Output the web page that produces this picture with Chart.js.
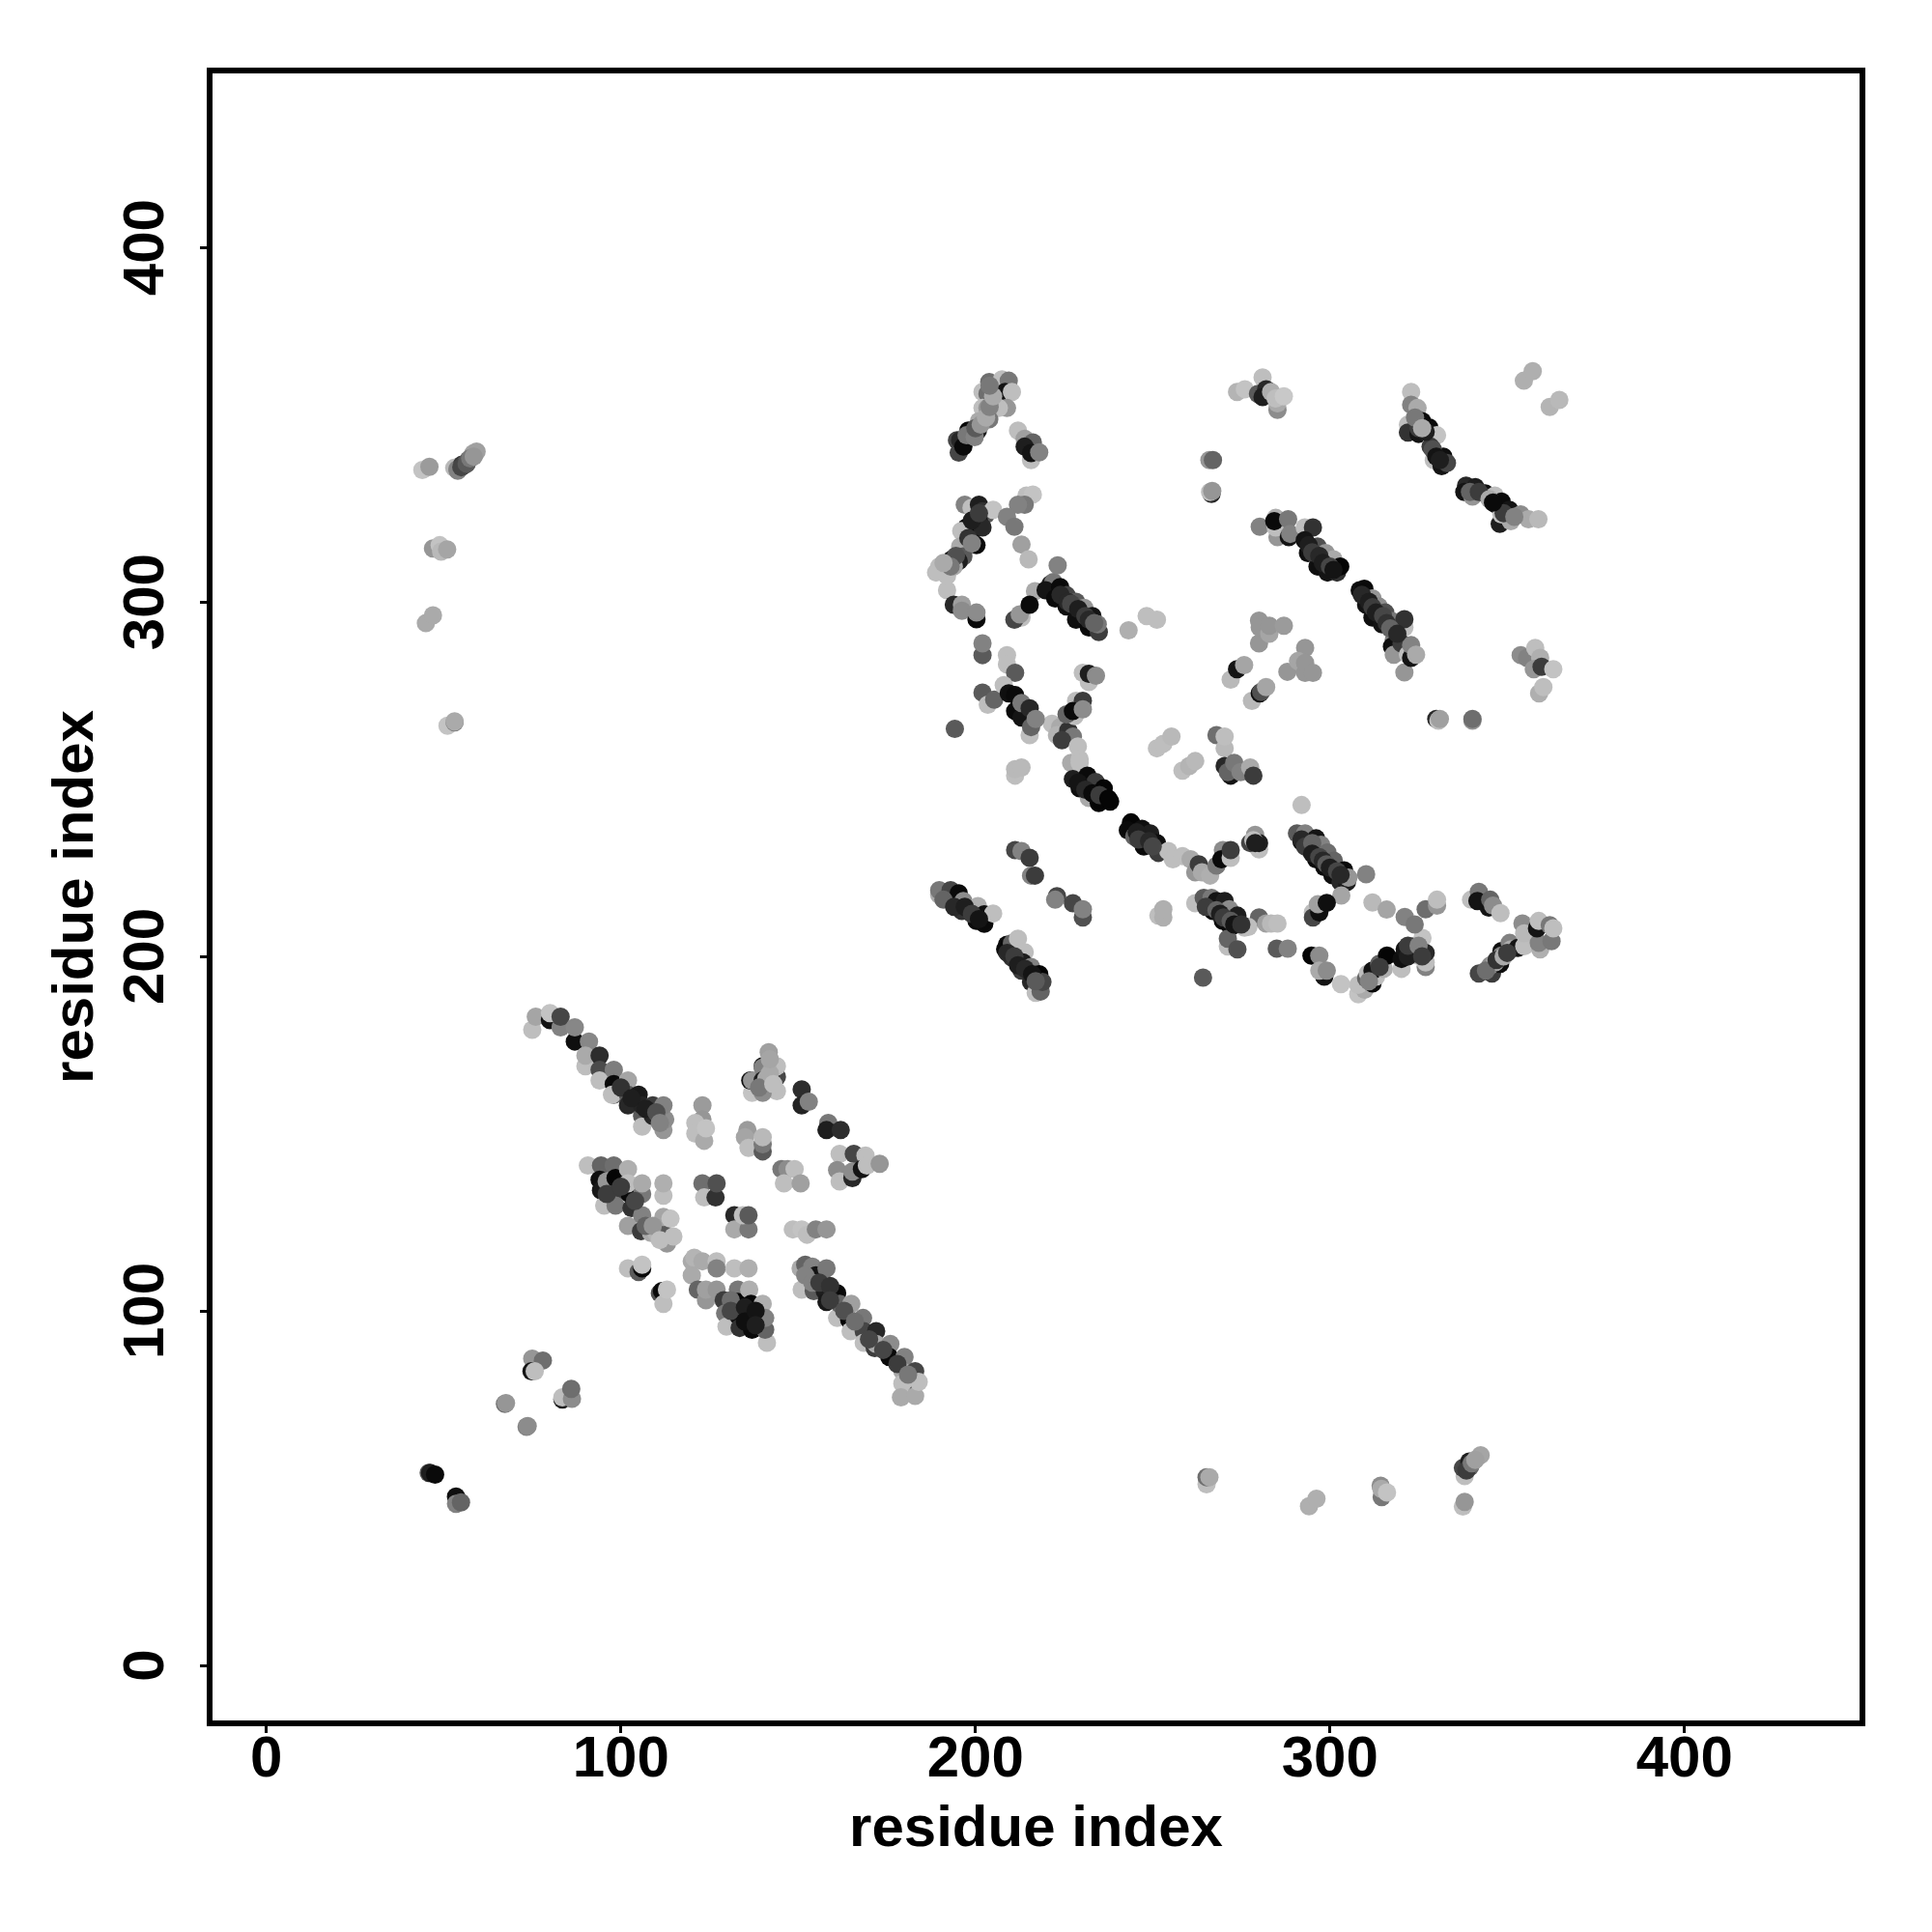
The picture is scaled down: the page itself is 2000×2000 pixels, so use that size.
<!DOCTYPE html>
<html><head><meta charset="utf-8">
<style>html,body{margin:0;padding:0;background:#fff}canvas{display:block}</style>
<script src="https://cdn.jsdelivr.net/npm/chart.js@4/dist/chart.umd.min.js"></script>
</head><body><canvas id="c" width="2000" height="2000"></canvas>
<script>
// each contact: [residue i, residue j, grey level]
const xTicks=[0,100,200,300,400];
const yTicks=[0,100,200,300,400];
const axisTitle="residue index";
const bandUnderlay=[[54,337,130],[55,338,70],[56.5,339,90],[57.5,340.5,120],[58.5,341,150],[338.5,55,60],[340,57,120],[341,58,160],[200,349,90],[201.5,350,150],[203,352,170],[204,355,130],[205,358,170],[204,361,120],[224,302,40],[226,300,40],[227,299.5,70],[229,298,30],[231,296,60],[232,295,40],[233.5,294,100],[229,249,20],[231,247,40],[233,246,10],[235,245.5,60],[237.5,244.5,5],[245.5,235,30],[246,233,60],[249,232.5,40],[250,231,70],[294,316,30],[295,314,60],[297,313,40],[298,311,30],[300,310,70],[301,309,20],[309,302,40],[311,300,30],[312,298.5,60],[313,297,30],[315,296,70],[316,294,50],[317,292.5,100],[319,291,40],[292,233,40],[293,231,60],[295,232,100],[295,229,30],[297,228,70],[298,227,40],[299,226,90],[300,225,30],[302,224,70],[303,223,40],[339.5,331,100],[342,331,60],[345,329,170],[349,325,60],[352,324,130],[346,328,10],[325,349,60],[327,348,30],[329,343,80],[330,341,20],[331,340,30],[324,352,120],[326,349,170],[199,323,30],[201,325,60],[198,318,50],[199,316.5,130],[194.5,313,80],[193,310,120],[191,311,170],[191,216,100],[194,214,40],[197,214,30],[199,212,60],[201,210.5,20],[209,201,40],[211,200,60],[212,197.5,30],[214,196.5,40],[216,195,20],[217,193,90],[265,214,60],[268,213,100],[269,212,30],[270,211,60],[272,210,90],[273,209,20],[275,209,50],[311,193,130],[314,197,60],[322,200,30],[322,203,60],[325,203,130],[326,200,60],[344,196,110],[347,199,50],[349,200,170],[350,201,60],[100,163,50],[103,160,30],[107,157,30],[110,156,80],[111,153,130],[131,103,110],[131,100,70],[135,101,30],[135,97,15],[138,100,20],[138,96,30],[96,133,60],[100,135,60],[104,131,70],[107,124,100],[109,124,150],[111,120,190],[152,110,130],[154,108,130],[156,108,60],[159,107,50],[159,103,60],[163,100,80],[166,97,110],[170,92,70],[174,89,70],[178,85,60],[181,82,120],[139,163,120],[142,167,170],[142,171,165],[143,164,190]];
const diagUpper=[[75,179.3,190],[76,183,165],[80,182,20],[80,184,195],[83,180,130],[83,183,70],[87,176,15],[87,180,135],[91,173,100],[91,176,135],[90,169,190],[90,172,170],[94,172,45],[94,168,75],[94,165,190],[98,168,125],[98,164,10],[98,161,90],[97.5,161,190],[102,165,165],[102,161,90],[102,158,40],[105,161,25],[106,155,90],[106,152,190],[106,158,35],[109,158,60],[109,155,40],[112,151,150],[112.5,154,140],[112,158,130]];
const starTop=[[137,161.5,195],[136.5,165,20],[137,165,150],[141.7,173,160],[140,169,20],[140,168.6,130],[144,166,70],[144,169,190],[144,162,190],[140,161.5,140],[140,165,30],[141,165.5,170],[151,162.5,45],[151,158,35],[153,159,130],[158.5,153,120],[158,151,30],[162,151,45]];
const starRight=[[161.7,144.3,190],[165.7,144.3,70],[169,143.8,190],[161,139.7,140],[161.7,136.5,190],[165.3,137.5,40],[165.3,139.3,140],[168,140,20],[169.4,141,190],[173,141.5,150]];
const starMid=[[135.7,151,155],[135,149,165],[136,146,190],[140,145,90],[140,147,120],[140,149,185],[145.3,140,120],[147,140,140],[149,140,190],[146,136,190],[150.7,136,160],[123,158,155],[123,154,150],[121,153,190],[121,150,190],[123.5,148,170],[124,151.5,195]];
const crossLeft=[[90.7,141,190],[94.4,141,100],[98,141,110],[94,137,15],[94.4,134,25],[96,136.5,150],[95.3,129.7,190],[98.5,137.5,5],[99,133.4,60],[98.5,129.7,120],[102,140,175],[102.5,133,10],[103,129,50],[102,136,190],[106,133,120],[106,136,170],[102,124,160],[105.7,122.5,60],[106,127,130],[112,132.5,190],[112,136,175],[108.5,122,170],[110,122,180],[111.6,123,90],[113,119,150],[112,126.5,165],[114,126,195],[114.8,121,190]];
const crossCentre=[[123,136,110],[123.5,132,190],[126.7,132,50],[127,136,80],[132,127,40],[132,123,170],[136,123,120],[134.4,127,190],[136,127,90],[148.5,123,190],[151,123,195],[152.5,121.5,190],[155,123,130],[158,123,150]];
const crossLower=[[102,112,190],[105,111,90],[106,112,10],[106,113,195],[111,105,80],[111.6,105.6,10],[112,102,190],[113,106,195],[120,114,170],[120.7,115,180],[120,110,170],[123,114,170],[127,114,190],[127,112,130],[132,112,190],[136,112,175],[121.7,106,100],[124,103,150],[124,106,160],[127,106,150],[129,103,60],[129.4,99.3,120],[129.8,95.6,190],[133,106,120],[133,102.5,5],[133,98.8,15],[133.5,95.2,50],[136.2,106,175],[136.7,102,5],[136.7,98.4,5],[137,94.7,10],[140,102,175],[141.2,91,190],[140.7,94.7,100],[140.7,98,130]];
const diagLower=[[150.7,112,170],[152,113,100],[154,112.5,130],[155,110,20],[158,112,120],[151,106,190],[154.4,105.6,90],[157.5,105.6,30],[158,102.5,25],[161,105,10],[161,98,190],[161.7,102,100],[164.4,97.5,5],[165,102,160],[164.8,94.3,190],[168.3,98,120],[168.5,94.3,70],[172,94.3,40],[168.5,91,190],[171.6,89.5,60],[172,90.7,170],[176,90.7,140],[175.7,87,10],[180,87,130],[179.4,83,170],[183,83,70],[182,80,10],[179.4,79.5,190],[179,75.6,170],[183,76,170],[184,80,190]];
const lowLeft=[[75,86.5,150],[78,86,110],[74.8,83,20],[75.7,83,190],[83.5,75,30],[83.5,75.6,190],[86.2,75.2,140],[86,78,110],[67.3,73.8,110],[67.6,74,150],[73.4,67.3,130],[73.7,67.5,140],[45.8,54.3,90],[46.2,54.3,30],[47.6,53.8,10],[53.5,47.6,15],[53.5,45.6,130],[54.9,46,100]];
const upperLeft=[[44,337.2,195],[46,338.1,155],[53,337.8,185],[53.9,337.4,130],[55.2,338.7,55],[56.1,338.7,110],[57,340,90],[58.4,341.9,165],[59.3,342.4,160],[47,315.1,150],[48.9,316,195],[49.3,314.2,185],[51,314.8,165],[45,294,170],[47,296.2,170],[51.1,265.1,195],[53.1,266,130],[53.1,266.3,170]];
const lowRight=[[265.2,51.1,190],[265.2,53.1,110],[266,53.1,170],[294.1,44.9,175],[296.2,47,175],[314.3,50.7,140],[314.6,47.5,120],[314.5,49.8,170],[316.1,48.8,195],[338,53.4,190],[337.5,55.7,70],[339.3,57.5,30],[339.5,56,100],[342.5,59.3,165],[337.5,44.8,190],[338,46.1,150]];
const topA=[[203.9,362,110],[207.5,362.8,190],[209.4,362.4,120],[202,359.2,190],[203.4,358.7,110],[208.4,359.2,20],[210.3,359.2,190],[208.9,354.7,150],[206.6,354.7,190],[202,354.7,190],[203.4,354.7,150],[201,351,170],[203.9,351.5,120],[195.3,342.1,70],[194.8,345.6,70],[195.7,345.6,40],[196.6,343.8,10],[198,348.3,10],[197.5,347,120],[200.7,348.3,30],[199.8,346.5,130],[212,348.3,190],[213.9,346,160],[216.2,345,100],[213.9,343.8,30],[215.7,340,190],[215.7,342,20],[218,342.2,130],[266,340,150],[267,340,100],[266.6,330.5,40],[266.2,331,190],[266.8,331.3,150]];
const armB=[[197,327.4,130],[198.9,326.5,190],[201,327.4,30],[202,325.6,50],[203,324.7,90],[201,322.8,20],[199.8,320.6,15],[197.5,321,10],[196,320,190],[202,321,40],[200.3,316,10],[197.5,315.6,120],[195.7,315.6,170],[196.6,312.8,90],[193.4,312,15],[195.3,311.5,30],[192,309.7,150],[189.8,310,190],[188.9,308.3,190],[192,307.4,190],[193.9,310,170],[205,326,195],[214.4,330,190],[216.2,330.3,195],[213.9,327.4,120],[212,327.4,130],[208.9,324,130],[211,321.2,120],[213,316.2,160],[215,312,185],[223.2,310.3,130]];
const armC=[[192,303.3,190],[193.9,299.2,40],[196.2,299.2,160],[196.2,297.5,140],[200.3,295.1,10],[200.3,297,140],[216.8,303,170],[213,295.6,190],[211,295,70],[212.5,296.5,150],[215.3,299.2,10],[221.2,305,30],[222,305.6,120],[219.8,303.3,20],[223.9,304.2,10],[222.5,301,10],[225.7,301.9,70],[225.7,298.7,15],[228.4,300,90],[230.7,298.3,150],[228.4,295,15],[232,292.8,10],[233,296,20],[234.8,291.5,60],[234.5,293.7,120],[243.2,292,175],[248.3,296,190],[251.2,295,190]];
const armD=[[202,285,90],[202,288.3,130],[208.9,285,190],[208.9,282.4,190],[211.2,280,90],[202,274.4,90],[203.5,271,190],[205.3,272.4,100],[208,276.5,190],[209.4,274.2,15],[211.2,273.7,10],[211.2,269.2,10],[213,267.4,20],[213,271.5,120],[215.3,270,40],[215.3,262.4,190],[215.7,264.7,100],[217,267,130],[230.3,280,190],[232,277.4,190],[232,279.7,30],[234,279.2,140],[228.4,272.1,190],[230.3,272.1,60],[228,267.8,190],[225.7,268.3,100],[227.5,269.2,10],[230.3,269.7,140],[194.2,264.2,90]];
const diagCentre=[[221.6,265.6,190],[223.9,264.7,170],[223,262.4,180],[226.2,263.7,50],[227.5,262,120],[224.4,261,60],[228.9,259.2,190],[227,254.6,170],[229.4,255.6,190],[229.4,254.6,190],[227.5,250,30],[229.4,247.4,15],[231.6,251,10],[233.9,249.2,60],[236.2,247.4,5],[232,244.7,170],[234.8,243.3,5],[236.2,245,10],[238,243.7,5],[243.9,237.8,5],[243,235.6,10],[244.8,233.8,100],[247,236,15],[247.5,231,10],[249.3,234.7,30],[251.6,229.2,60],[251.2,232,15],[254.4,229.7,190],[255.7,227.4,190],[258.4,228.3,190],[260.7,227.4,170],[262,223.7,150],[263,226,60],[263.9,223.7,170],[266.2,222.8,175],[268,225.6,120],[269.8,230,140],[269.4,227.4,10],[272,227.8,190],[272,230,60],[278.4,232.8,190],[278.9,232,30]];
const loopE=[[262,215,190],[264.4,216.5,90],[266.6,216.5,120],[268,215.6,20],[267,212.8,10],[270.3,215.6,30],[269.8,210,10],[271.6,213.3,140],[273.9,211.5,30],[272,208.3,10],[271.2,202.8,190],[271.2,205,100],[273.9,202,80],[275.9,208.1,190],[264.2,194,90],[251.6,211.5,190],[253,211,175],[253,213.3,175],[251.2,258.7,190],[253,260,190],[255.3,262,185],[258.4,252.4,190],[260.3,253.7,180],[262,255.1,185],[268,262.4,110],[270.3,258.7,185],[270.3,262,190],[270.3,253.7,40],[272,251,20],[271.2,252,100],[273,254.6,120],[274.8,252,130],[277.5,253.3,170],[278.4,251,60],[211.2,251,190],[211.2,252.8,185],[213,253.3,185]];
const loopF=[[211.2,230,70],[213,229.7,130],[215.3,227.8,60],[215.7,222.8,130],[216.8,222.8,60],[223,217,70],[222.5,216,130],[227.5,215,70],[230.3,211,80],[230.3,213.3,130],[189.8,217.4,170],[189.8,218.7,120],[193,218.7,70],[193.9,215.6,20],[195.3,217.8,10],[196.6,215.6,140],[196.2,212.8,50],[198.4,213.3,150],[200.3,210,10],[200.7,214.2,175],[202.5,209.2,10],[202.5,211.9,15],[205,212.1,190],[208.4,202,10],[208.9,203.3,10],[210.3,203.7,100],[212,205,190],[213.9,201.2,190],[210.3,199.7,50],[213,196,60],[213.4,198.3,30],[215.7,197,130],[215.7,192.8,40],[217,189.7,190],[218.4,190.1,100],[218,195,5],[218.9,192.8,70]];
const topH=[[273.8,359.2,180],[276,360,195],[281,363.3,190],[279.7,358.7,90],[282,360,40],[281,357.8,30],[283.4,359.2,175],[285.2,354.2,140],[285.2,356,170],[284.7,357.4,190],[287,358,200],[322.9,359.2,190],[322.9,355.6,130],[324.7,354.7,170],[322,350,190],[322,347.8,50],[326,351,10],[325,347.4,20],[328,349.2,10],[328.8,345.6,190],[330.2,347,195],[329.3,340,190],[328.4,343.8,60],[332,341,15],[331.5,338.3,20],[333,339.2,70]];
const armI=[[338.4,332.8,40],[337.9,331,20],[341,332.4,30],[340.2,329.7,150],[343.8,330.6,15],[346.5,330,190],[347,327.4,40],[348.4,328.3,10],[347.9,322,30],[348.4,324.7,190],[350.6,326,20],[351,322.8,170],[353.8,324.7,140],[356,323.3,170],[358.8,323.3,185]];
const armJ=[[280.2,321.2,130],[284.7,323.7,175],[285.2,318.3,150],[284.7,321,190],[284.3,322.8,10],[288.2,323.3,120],[288.4,318.3,20],[288.8,319.2,130],[292.9,321,190],[295.2,321,50],[292.9,317.4,20],[296.5,315.6,80],[293.8,313.8,15],[296.5,310,15],[298.8,313.8,150],[299.3,308.3,20],[301,312,170],[302,308.3,50],[302.9,310,5]];
const armK=[[308.4,303.3,15],[309.7,303.7,10],[310.2,299.2,20],[312,301,150],[313.8,298.7,140],[312,295.6,15],[314.7,293.7,20],[315.6,297,80],[317.5,294.6,120],[321,292.8,190],[321,295.1,50],[318,289.2,130],[317.5,287.4,15],[318,285.1,150],[320.2,288.3,60],[321,280.1,150],[322,285.1,190],[322.9,284.2,20],[322.9,287.8,130],[324.3,285.1,170],[330,267,40],[330.6,266.5,190],[331,267,160],[340.2,266.5,150],[340.2,267,110]];
const patchL=[[354.7,362.4,175],[357.2,365.1,175],[362,355,180],[364.7,357,185],[280,288.3,150],[280,294.7,150],[280.2,292.8,150],[282.9,291,165],[282.9,293.3,150],[287,293.3,155],[293,287,150],[288,280.3,150],[291,283.3,165],[293,280,150],[293,282.8,150],[295.2,280,150],[272,278.1,185],[273.8,281,20],[275.8,282.2,165],[278,272.1,185],[280.2,274.2,15],[280.6,274.6,80],[282,276,165],[353.8,285,140],[355.6,284.2,130],[357.9,287,190],[359.3,284.2,175],[357.5,281,150],[359,274.2,175],[360.2,276,190],[359.7,281.7,60],[363,281,195]];
const patchM=[[292,242.7,190],[278.9,234.3,150],[280,230.2,190],[277.5,232,70],[280,232,30],[290.7,234.7,90],[293,234.7,130],[292,232.4,10],[296.1,233.3,20],[294.3,230.2,15],[297.5,231.5,130],[296.1,227.4,10],[299.3,229.3,110],[298.4,225.2,10],[301.1,227,100],[300.7,222.9,15],[303,221,40],[304.8,221,30],[304,224.3,10],[305.2,222.2,150],[310.2,223.2,130],[303.2,217.2,165],[295.2,212.4,190],[295.2,211,70],[297,212.4,15],[296.6,214.7,160],[299.1,215.1,15],[312,215.2,185],[316,213.2,165],[321.1,211.1,130],[323.9,209,120],[327,213.3,110],[330.2,214.3,150],[330.2,216,190],[280,211,100],[277,208.3,190],[282,209.3,160],[283.4,209.3,185],[285.2,209.3,190],[285,202.2,90],[288.1,202.2,130],[294.8,200.2,5],[297,200.2,140],[298.4,194.3,20],[297,196,170],[299.1,196,140],[303.1,192.2,195]];
const arcN=[[308,189.3,195],[309.8,190.6,170],[308,192,190],[310.2,193.8,100],[310.7,195.2,190],[312,192.4,10],[313,194.3,190],[312,196,20],[313.9,197.9,100],[315.2,196.5,175],[316.1,200.2,5],[320.2,196.5,190],[320.2,199.3,15],[321.1,202,20],[323.9,202.9,70],[327,197,130],[327,198.3,190],[324.8,200.2,190],[326.1,205.2,195],[327,201,40]];
const arcO=[[339.8,216,190],[342,218.2,120],[341.6,215.6,20],[344.8,213.8,20],[345.2,216,100],[346,214.3,140],[348.1,212.2,190],[342,195.2,70],[345.7,195.2,60],[345.2,197.4,140],[348,197.9,15],[346.6,198.3,170],[348.4,201.5,15],[348.4,200.2,130],[350.7,203.8,130],[351.1,202,170],[353,202.4,20],[354.8,202.9,190],[354.3,209.3,140],[354.8,206.5,185],[359.3,202,175],[358.9,203.8,130],[358.4,207.9,20],[358.9,210,190],[362.5,204.3,120],[362,208.8,120],[363,207.9,190]];

const contactGroups=[bandUnderlay,diagUpper,starTop,starRight,starMid,crossLeft,crossCentre,crossLower,diagLower,lowLeft,upperLeft,lowRight,topA,armB,armC,armD,diagCentre,loopE,loopF,topH,armI,armJ,armK,patchL,patchM,arcN,arcO];
const PLOT={left:217,top:73,right:1928,bottom:1784};
const FONT='"Liberation Sans", Arial, sans-serif';
const framePlugin={id:'frame',afterDatasetsDraw(chart){const a=chart.chartArea,c=chart.ctx;c.save();c.lineWidth=6;c.strokeStyle='#000';c.lineJoin='miter';c.strokeRect(a.left,a.top,a.right-a.left,a.bottom-a.top);c.restore();}};
new Chart(document.getElementById('c'),{
 type:'scatter',
 data:{datasets:contactGroups.map(g=>({
   data:g.map(p=>({x:p[0],y:p[1]})),
   pointRadius:9.5,pointHoverRadius:9.5,pointBorderWidth:0,
   pointBackgroundColor:g.map(p=>`rgb(${p[2]},${p[2]},${p[2]})`)
 }))},
 plugins:[framePlugin],
 options:{responsive:false,animation:false,
  layout:{padding:{left:0,top:PLOT.top,right:2000-PLOT.right,bottom:0}},
  plugins:{legend:{display:false},tooltip:{enabled:false}},
  scales:{
   x:{type:'linear',min:-16,max:450.2,
    afterFit(s){s.height=2000-PLOT.bottom;},
    afterBuildTicks(s){s.ticks=xTicks.map(v=>({value:v}));},
    grid:{drawOnChartArea:false,drawTicks:true,tickLength:10,tickWidth:3,tickColor:'#000'},
    border:{display:false},
    ticks:{color:'#000',font:{family:FONT,weight:'bold',size:60},padding:-8,maxRotation:0,minRotation:0,autoSkip:false},
    title:{display:true,text:axisTitle,color:'#000',font:{family:FONT,weight:'bold',size:60},padding:{top:0,bottom:70}}},
   y:{type:'linear',min:-16.35,max:449.9,
    afterFit(s){s.width=PLOT.left;},
    afterBuildTicks(s){s.ticks=yTicks.map(v=>({value:v}));},
    grid:{drawOnChartArea:false,drawTicks:true,tickLength:10,tickWidth:3,tickColor:'#000'},
    border:{display:false},
    ticks:{color:'#000',font:{family:FONT,weight:'bold',size:60},padding:4,maxRotation:90,minRotation:90,crossAlign:'center',autoSkip:false},
    title:{display:true,text:axisTitle,color:'#000',font:{family:FONT,weight:'bold',size:60},padding:{top:43,bottom:0}}}
  }}
});
</script></body></html>
